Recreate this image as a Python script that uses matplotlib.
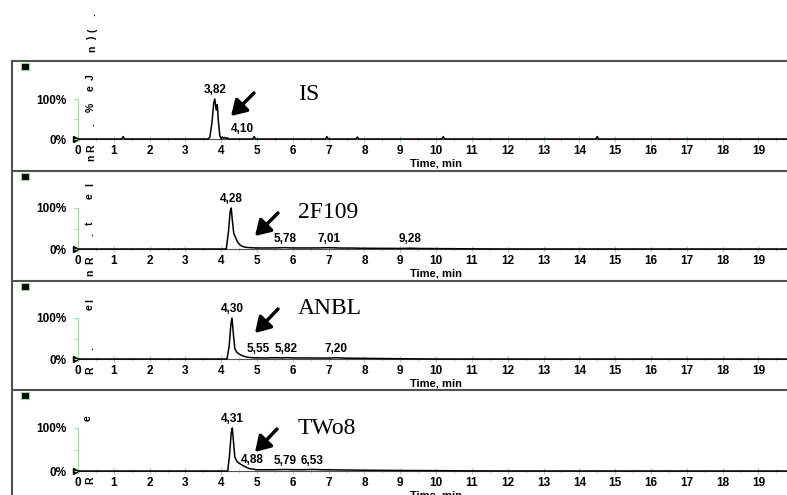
import matplotlib
matplotlib.use('Agg')
import matplotlib.pyplot as plt
from matplotlib.ticker import MultipleLocator
from matplotlib.patches import Rectangle

plt.rcParams['font.family'] = ['Liberation Sans', 'DejaVu Sans']

# sample names shown next to each trace
names = ['IS', '2F109', 'ANBL', 'TWo8']

# chromatogram traces: retention time (min) and relative intensity (%)
is_time = [0, 1.22, 1.26, 1.30, 3.62, 3.68, 3.74, 3.79, 3.82, 3.86, 3.89, 3.92, 3.96, 4.00,
           4.03, 4.06, 4.10, 4.13, 4.17, 4.21, 4.88, 4.92, 4.96, 6.91, 6.95, 6.99,
           7.76, 7.80, 7.84, 10.16, 10.20, 10.24, 14.46, 14.50, 14.54, 19.8]
is_int = [0, 0, 6, 0, 0, 4, 40, 90, 100, 72, 86, 45, 8, 1,
          5, 2, 4, 1, 3, 0, 0, 6, 0, 0, 6, 0,
          0, 5, 0, 0, 6, 0, 0, 6, 0, 0]
is_peaks = [3.82, 4.10]

f2_time = [0, 4.14, 4.20, 4.25, 4.28, 4.31, 4.35, 4.40, 4.45, 4.52, 4.60, 4.70, 4.85, 5.0,
           5.3, 5.6, 5.78, 5.95, 6.3, 6.7, 7.01, 7.3, 7.7, 8.0, 8.5, 9.0, 9.28, 9.6,
           10.0, 10.5, 11.0, 12.0, 19.8]
f2_int = [0, 0, 40, 92, 100, 70, 38, 28, 18, 10, 6, 4, 3, 2.5,
          2.5, 2.8, 3.4, 2.6, 2.5, 2.6, 3.2, 2.4, 2.2, 1.8, 1.6, 1.4, 1.9, 1.2,
          1.0, 0.7, 0.4, 0.1, 0]
f2_peaks = [4.28, 5.78, 7.01, 9.28]

anbl_time = [0, 4.16, 4.22, 4.27, 4.30, 4.34, 4.38, 4.44, 4.52, 4.62, 4.75, 4.9, 5.2, 5.55,
             5.7, 5.82, 6.0, 6.5, 7.0, 7.2, 7.5, 8.0, 8.5, 9.0, 9.5, 10.0, 19.8]
anbl_int = [0, 0, 30, 85, 100, 60, 25, 16, 11, 7, 4, 3, 2.5, 3.2,
            2.5, 3.3, 2.6, 2.4, 2.3, 3.1, 2.0, 1.6, 1.1, 0.6, 0.3, 0, 0]
anbl_peaks = [4.30, 5.55, 5.82, 7.20]

tw_time = [0, 4.18, 4.23, 4.28, 4.31, 4.34, 4.38, 4.44, 4.52, 4.62, 4.72, 4.80, 4.88, 4.96,
           5.2, 5.5, 5.79, 6.0, 6.3, 6.53, 6.8, 7.2, 7.6, 8.0, 8.5, 9.0, 9.5, 10.0,
           10.5, 11.0, 12.0, 19.8]
tw_int = [0, 0, 35, 90, 100, 70, 32, 22, 17, 12, 8, 5, 4.8, 3,
          2.8, 3, 3.5, 3, 3, 3.6, 3, 2.6, 2.2, 1.8, 1.5, 1.2, 1, 0.8,
          0.5, 0.3, 0.1, 0]
tw_peaks = [4.31, 4.88, 5.79, 6.53]

traces = [(is_time, is_int, is_peaks), (f2_time, f2_int, f2_peaks),
          (anbl_time, anbl_int, anbl_peaks), (tw_time, tw_int, tw_peaks)]

x_ticks = list(range(20))
t_max = 19.8

# layout in pixels
W, H = 787, 495
x0_px, x1_px = 78, 787
zero_px = [139, 249, 359, 471]
full_px = [99, 208, 318, 428]
border_px = [61, 171, 281, 390]
arrows = [((254, 93), (231, 116)), ((278, 213), (255, 236)),
          ((278, 309), (255, 333)), ((277, 429), (255, 452))]
name_y = [95, 213, 309, 429]
# sideways shift (points) of crowded peak labels
label_shift = {4.10: 13, 5.55: -13}

green = '#8fe08f'
grey = '#505050'

fig = plt.figure(figsize=(W / 100, H / 100), dpi=100)

# background axes in pixel units for frames, arrows and loose text
bg = fig.add_axes([0, 0, 1, 1])
bg.set_xlim(0, W)
bg.set_ylim(H, 0)
bg.axis('off')

bg.plot([12, 12], [border_px[0], H], color=grey, lw=1.5)
for by in border_px:
    bg.plot([12, W], [by, by], color=grey, lw=1.5)
    bg.add_patch(Rectangle((21, by + 1.5), 7.5, 7.5, facecolor='black', edgecolor=green, lw=0.8))

# clipped, overlapping y-axis titles
fragments = [(92, 49, 'n'), (92, 38, ')'), (92, 30, '('), (92, 15, '.'),
             (91, 77, 'J'), (91, 88, 'e'), (91, 107, '%'), (91, 125, '.'),
             (91, 148, 'R'), (91, 158, 'n'),
             (90, 185, 'l'), (90, 196, 'e'), (90, 223, 't'), (90, 235, '.'),
             (90, 260, 'R'), (90, 273, 'n'),
             (90, 300, 'l'), (90, 307, 'e'), (90, 349, '.'), (90, 370, 'R'),
             (88, 418, 'e'), (90, 480, 'R')]
for fx, fy, ch in fragments:
    bg.text(fx, fy, ch, rotation=90, fontsize=7.5, fontweight='bold', ha='center', va='center')

for k in range(4):
    t, inten, peaks = traces[k]
    z, f = zero_px[k], full_px[k]
    ax = fig.add_axes([x0_px / W, 1 - z / H, (x1_px - x0_px) / W, (z - f) / H])
    ax.set_facecolor('none')
    ax.set_xlim(0, t_max)
    ax.set_ylim(0, 100)
    for s in ['top', 'right']:
        ax.spines[s].set_visible(False)
    ax.spines['left'].set_color(green)
    ax.spines['bottom'].set_color(grey)
    ax.set_xticks(x_ticks)
    ax.xaxis.set_minor_locator(MultipleLocator(0.5))
    ax.set_yticks([0, 100])
    ax.set_yticklabels(['0%', '100%'])
    ax.yaxis.set_minor_locator(MultipleLocator(50))
    ax.tick_params(axis='x', which='major', direction='inout', length=4, color=green,
                   pad=2, labelsize=8.5)
    ax.tick_params(axis='x', which='minor', direction='inout', length=3, color=green)
    ax.tick_params(axis='y', which='both', direction='out', length=3, color=green,
                   pad=5, labelsize=8.5)
    for lab in ax.get_xticklabels() + ax.get_yticklabels():
        lab.set_fontweight('bold')

    ax.plot(t, inten, color='black', lw=1.1, clip_on=False, zorder=3)

    for p in peaks:
        ax.annotate(f'{p:.2f}'.replace('.', ','), (p, inten[t.index(p)]),
                    xytext=(label_shift.get(p, 0), 2), textcoords='offset points',
                    ha='center', va='bottom', fontsize=8.5, fontweight='bold',
                    annotation_clip=False)

    bg.plot(76, z, marker='>', ms=5, color='black')
    bg.text(436, z + 24, 'Time, min', fontsize=8, fontweight='bold', ha='center', va='center')

    tail, tip = arrows[k]
    bg.annotate('', xy=tip, xytext=tail,
                arrowprops=dict(arrowstyle='-|>,head_length=0.9,head_width=0.55',
                                lw=2.5, color='black', mutation_scale=10, shrinkA=0, shrinkB=0))
    bg.text(298, name_y[k], names[k], family='Liberation Serif', fontsize=17,
            ha='left', va='center')

fig.savefig('out.png', dpi=100)
